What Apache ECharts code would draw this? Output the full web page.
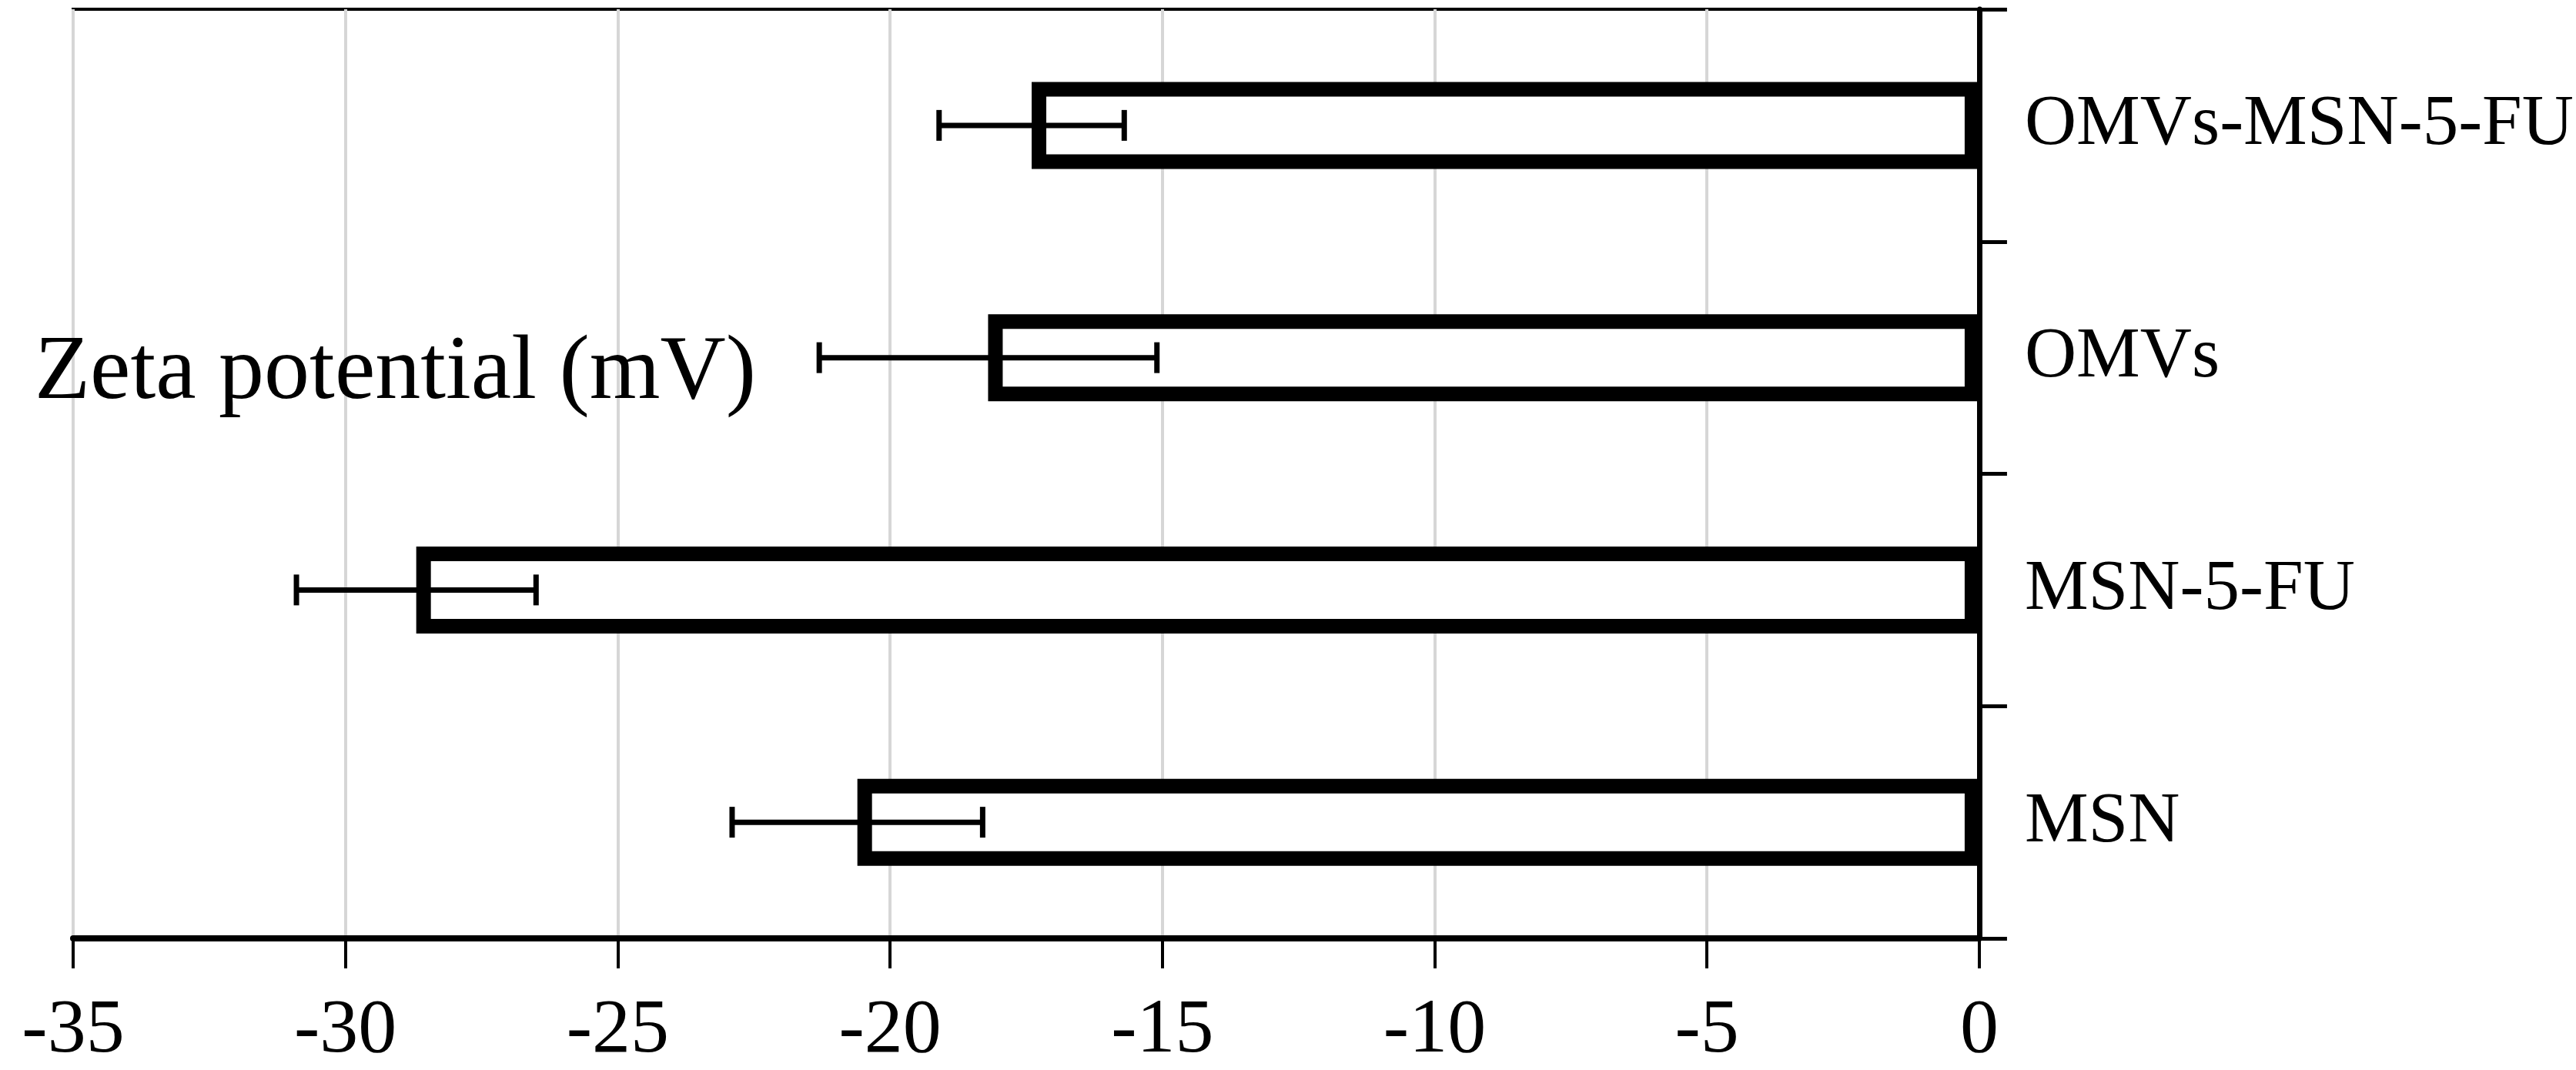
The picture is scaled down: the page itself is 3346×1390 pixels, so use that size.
<!DOCTYPE html>
<html>
<head>
<meta charset="utf-8">
<script src="https://cdn.jsdelivr.net/npm/echarts@6/dist/echarts.min.js"></script>
<style>
  html, body { margin: 0; padding: 0; background: #fff; }
  #chart { width: 3346px; height: 1390px; }
</style>
</head>
<body>
<div id="chart"></div>
<script>
// categories bottom -> top (category axis draws first item at the bottom)
const categories = ['MSN', 'MSN-5-FU', 'OMVs', 'OMVs-MSN-5-FU']
const zeta = [-20.6, -28.7, -18.2, -17.4]
const zetaErr = [2.3, 2.2, 3.1, 1.7]
const xTicks = [-35, -30, -25, -20, -15, -10, -5, 0]

const serif = 'Liberation Serif, Times New Roman, serif'

let chart = echarts.init(document.getElementById('chart'))

let errData = zeta.map((v, i) => [i, v - zetaErr[i], v + zetaErr[i]])

chart.setOption({
  animation: false,
  backgroundColor: '#fff',
  title: {
    text: 'Zeta potential (mV)',
    left: 40,
    top: 422,
    textStyle: {
      fontFamily: serif,
      fontSize: 118,
      fontWeight: 'normal',
      color: '#000'
    }
  },
  grid: {
    left: 95,
    right: 775,
    top: 12,
    bottom: 163,
    show: true,
    borderColor: '#000',
    borderWidth: 4
  },
  xAxis: {
    type: 'value',
    min: xTicks[0],
    max: xTicks[xTicks.length - 1],
    interval: 5,
    position: 'bottom',
    axisLine: { show: true, lineStyle: { color: '#000', width: 8 } },
    axisTick: { show: true, length: 39, lineStyle: { color: '#000', width: 4 } },
    axisLabel: {
      margin: 71,
      fontFamily: serif,
      fontSize: 100,
      color: '#000'
    },
    splitLine: { show: true, lineStyle: { color: '#d6d6d6', width: 4 } }
  },
  yAxis: {
    type: 'category',
    data: categories,
    position: 'right',
    axisLine: { show: true, onZero: false, lineStyle: { color: '#000', width: 7 } },
    axisTick: { show: true, length: 36, lineStyle: { color: '#000', width: 5 } },
    axisLabel: {
      margin: 59,
      fontFamily: serif,
      fontSize: 93,
      color: '#000'
    },
    splitLine: { show: false }
  },
  series: [
    {
      name: 'Zeta',
      type: 'bar',
      data: zeta,
      barWidth: 113,
      itemStyle: {
        color: '#fff',
        borderColor: '#000',
        borderWidth: 19
      },
      z: 2
    },
    {
      name: 'err',
      type: 'custom',
      data: errData,
      z: 5,
      renderItem (params, api) {
        let c = api.value(0)
        let lo = api.coord([api.value(1), c])
        let hi = api.coord([api.value(2), c])
        let half = 20
        let style = { stroke: '#000', lineWidth: 7 }
        return {
          type: 'group',
          children: [
            { type: 'line', shape: { x1: lo[0], y1: lo[1], x2: hi[0], y2: hi[1] }, style: style },
            { type: 'line', shape: { x1: lo[0], y1: lo[1] - half, x2: lo[0], y2: lo[1] + half }, style: style },
            { type: 'line', shape: { x1: hi[0], y1: hi[1] - half, x2: hi[0], y2: hi[1] + half }, style: style }
          ]
        }
      }
    }
  ]
})
</script>
</body>
</html>
